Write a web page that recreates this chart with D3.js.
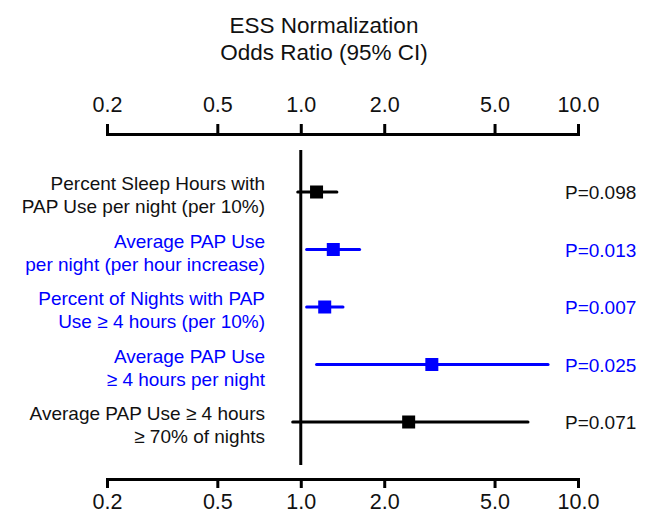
<!DOCTYPE html>
<html>
<head>
<meta charset="utf-8">
<script src="https://cdn.jsdelivr.net/npm/d3@7"></script>
<style>
  html, body { margin: 0; padding: 0; background: #fff; }
  svg { display: block; font-family: "Liberation Sans", Arial, sans-serif; }
</style>
</head>
<body>
<svg id="chart" width="652" height="515"></svg>
<script>
// ---- data ----
const titleLines = ["ESS Normalization", "Odds Ratio (95% CI)"];
const labelLine1 = [
  "Percent Sleep Hours with",
  "Average PAP Use",
  "Percent of Nights with PAP",
  "Average PAP Use",
  "Average PAP Use \u2265 4 hours"
];
const labelLine2 = [
  "PAP Use per night (per 10%)",
  "per night (per hour increase)",
  "Use \u2265 4 hours (per 10%)",
  "\u2265 4 hours per night",
  "\u2265 70% of nights"
];
const oddsRatio = [1.14, 1.31, 1.22, 2.97, 2.45];
const ciLow     = [0.975, 1.05, 1.05, 1.14, 0.935];
const ciHigh    = [1.35, 1.63, 1.42, 7.8, 6.6];
const pValues   = ["0.098", "0.013", "0.007", "0.025", "0.071"];
const tickValues = [0.2, 0.5, 1, 2, 5, 10];
const tickLabels = ["0.2", "0.5", "1.0", "2.0", "5.0", "10.0"];

// ---- layout ----
const svg = d3.select("#chart");
const BLUE = "#0000ff", BLACK = "#000";
const colorOf = i => (+pValues[i] < 0.05 ? BLUE : BLACK);

const x = d3.scaleLog().domain([0.2, 10]).range([107, 578]);
const y = d3.scalePoint().domain(d3.range(oddsRatio.length)).range([192, 422]);

// title
svg.append("g").selectAll("text").data(titleLines).join("text")
  .attr("x", 324).attr("y", (d, i) => 33 + i * 27)
  .attr("text-anchor", "middle")
  .attr("font-size", 22.5).attr("fill", "#111")
  .text(d => d);

function styleAxis(g) {
  g.select(".domain").attr("stroke", "#000").attr("stroke-width", 3);
  g.selectAll(".tick line").attr("stroke", "#000").attr("stroke-width", 3);
  g.selectAll(".tick text").attr("font-size", 21.5).attr("fill", "#111")
    .attr("font-family", "'Liberation Sans', Arial, sans-serif");
}

const axTop = d3.axisTop(x).tickValues(tickValues)
  .tickFormat((d, i) => tickLabels[i]).tickSize(10).tickSizeOuter(10).tickPadding(12);
svg.append("g").attr("transform", "translate(0,134)").call(axTop).call(styleAxis);

const axBot = d3.axisBottom(x).tickValues(tickValues)
  .tickFormat((d, i) => tickLabels[i]).tickSize(9).tickSizeOuter(9).tickPadding(6);
svg.append("g").attr("transform", "translate(0,479)").call(axBot).call(styleAxis);

// reference line at OR = 1
svg.append("line")
  .attr("x1", x(1)).attr("x2", x(1))
  .attr("y1", 150).attr("y2", 465)
  .attr("stroke", "#000").attr("stroke-width", 3);

const idx = d3.range(oddsRatio.length);

// CI lines
svg.append("g").selectAll("line").data(idx).join("line")
  .attr("x1", i => x(ciLow[i])).attr("x2", i => x(ciHigh[i]))
  .attr("y1", i => y(i)).attr("y2", i => y(i))
  .attr("stroke", i => colorOf(i)).attr("stroke-width", 3)
  .attr("stroke-linecap", "round");

// point estimates
const sq = 13;
svg.append("g").selectAll("rect").data(idx).join("rect")
  .attr("x", i => x(oddsRatio[i]) - sq / 2)
  .attr("y", i => y(i) - sq / 2)
  .attr("width", sq).attr("height", sq)
  .attr("fill", i => colorOf(i));

// left labels
const lab = svg.append("g").attr("font-size", 19);
lab.selectAll("text.l1").data(idx).join("text").attr("class", "l1")
  .attr("x", 265).attr("y", i => y(i) - 2)
  .attr("text-anchor", "end").attr("fill", i => colorOf(i) === BLUE ? BLUE : "#111")
  .text(i => labelLine1[i]);
lab.selectAll("text.l2").data(idx).join("text").attr("class", "l2")
  .attr("x", 265).attr("y", i => y(i) + 21)
  .attr("text-anchor", "end").attr("fill", i => colorOf(i) === BLUE ? BLUE : "#111")
  .text(i => labelLine2[i]);

// p values
svg.append("g").attr("font-size", 19).selectAll("text").data(idx).join("text")
  .attr("x", 565).attr("y", i => y(i) + 7)
  .attr("fill", i => colorOf(i) === BLUE ? BLUE : "#111")
  .text(i => "P=" + pValues[i]);
</script>
</body>
</html>
